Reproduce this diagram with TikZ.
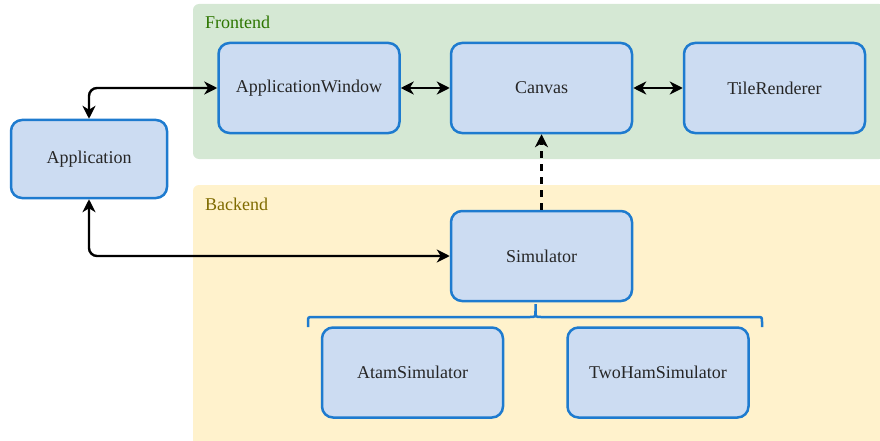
\documentclass[tikz,border=0pt]{standalone}
\usepackage{fontspec}
\setmainfont{Liberation Serif}
\usetikzlibrary{arrows.meta}
\definecolor{boxfill}{HTML}{CCDCF2}
\definecolor{boxline}{HTML}{1E7BCF}
\definecolor{frontfill}{HTML}{D5E8D4}
\definecolor{backfill}{HTML}{FFF2CC}
\definecolor{fronttext}{HTML}{2D7600}
\definecolor{backtext}{HTML}{7F6B00}
\tikzset{
  comp/.style={draw=boxline, fill=boxfill, line width=2.5pt, rounded corners=11pt,
    minimum width=181pt, minimum height=90pt, inner sep=0pt, text=black!85,
    font=\fontsize{18}{20}\selectfont},
  region/.style={fill=#1, draw=none, rounded corners=6pt},
  rlabel/.style={anchor=west, inner sep=0pt, font=\fontsize{18}{20}\selectfont},
  tip/.style={Stealth[length=13pt,width=13pt,inset=4pt]},
  conn/.style={line width=2.4pt, {Stealth[length=13pt,width=13pt,inset=4pt]}-{Stealth[length=13pt,width=13pt,inset=4pt]}, rounded corners=8pt},
  dep/.style={line width=2.4pt, dashed, dash pattern=on 7pt off 6pt, -{Stealth[length=13pt,width=13pt,inset=4pt]}},
  bracepath/.style={draw=boxline, line width=2.5pt}
}
\begin{document}
\begin{tikzpicture}[x=1pt,y=-1pt]
\useasboundingbox (0,0) rectangle (880,441);
% regions
\path[region=frontfill] (193,4) rectangle (885,159);
\path[region=backfill] (193,185) rectangle (885,446);
\node[rlabel, text=fronttext] (flabel) at (205,22) {Frontend};
\node[rlabel, text=backtext] (blabel) at (205,204) {Backend};
% components
\node[comp, minimum width=156pt, minimum height=78pt] (app) at (89,159) {Application};
\node[comp] (aw) at (309,88) {ApplicationWindow};
\node[comp] (canvas) at (541.5,88) {Canvas};
\node[comp] (tile) at (774.5,88) {TileRenderer};
\node[comp] (sim) at (541.5,256) {Simulator};
\node[comp] (atam) at (412.5,372.5) {AtamSimulator};
\node[comp] (twoham) at (658,372.5) {TwoHamSimulator};
% brace
\coordinate (btip) at (535.5,304);
\draw[bracepath] (308,327) -- (308,322) .. controls (308,317) .. (313,317) -- (530,317) .. controls (535.5,317) .. (535.5,311) -- (btip);
\draw[bracepath] (535.5,311) .. controls (535.5,317) .. (541,317) -- (757,317) .. controls (762,317) .. (762,322) -- (762,327);
% connectors
\draw[conn] (app.north) |- (aw.west);
\draw[conn] (app.south) |- (sim.west);
\draw[conn] (aw.east) -- (canvas.west);
\draw[conn] (canvas.east) -- (tile.west);
\draw[dep] (sim.north) -- (canvas.south);
\end{tikzpicture}
\end{document}
